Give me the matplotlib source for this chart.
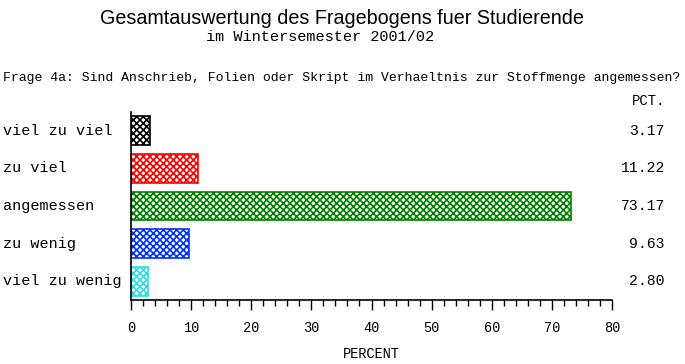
import matplotlib
matplotlib.use("Agg")
import matplotlib.pyplot as plt
from matplotlib.ticker import MultipleLocator
from matplotlib.transforms import blended_transform_factory

# Daten
kategorien = ['viel zu viel', 'zu viel', 'angemessen', 'zu wenig', 'viel zu wenig']
prozent = [3.17, 11.22, 73.17, 9.63, 2.80]
farben = ['#000000', '#ff0000', '#008000', '#0033ff', '#33dddd']

plt.rcParams['hatch.linewidth'] = 1.2
mono = 'Liberation Mono'

fig = plt.figure(figsize=(6.85, 3.64), dpi=100)
ax = fig.add_axes([131 / 685, 1 - 300 / 364, (612 - 131) / 685, (300 - 112) / 364])

for i, (p, c) in enumerate(zip(prozent, farben)):
    ax.barh(i, p, height=0.77, color='white', edgecolor=c, hatch='xxxxx', linewidth=1.2)

ax.set_ylim(4.5, -0.5)
ax.set_xlim(0, 80)
ax.spines['top'].set_visible(False)
ax.spines['right'].set_visible(False)
ax.spines['left'].set_linewidth(1.2)
ax.spines['bottom'].set_linewidth(1.2)

ax.xaxis.set_major_locator(MultipleLocator(10))
ax.xaxis.set_minor_locator(MultipleLocator(2))
ax.tick_params(axis='x', which='major', length=7, width=1, labelsize=9.8, pad=8)
ax.tick_params(axis='x', which='minor', length=4, width=1)
for lbl in ax.get_xticklabels():
    lbl.set_fontfamily(mono)
ax.set_yticks([])
ax.set_xlabel('PERCENT', fontfamily=mono, fontsize=9.8, labelpad=9)

# Kategorien links, Werte rechts
trans = blended_transform_factory(fig.transFigure, ax.transData)
for i, (k, p) in enumerate(zip(kategorien, prozent)):
    ax.text(3 / 685, i, k, transform=trans, fontsize=10.9,
            fontfamily=mono, va='center', ha='left')
    ax.text(665 / 685, i, f'{p:.2f}', transform=trans, fontsize=10.6,
            fontfamily=mono, va='center', ha='right')

fig.text(665 / 685, 1 - 101 / 364, 'PCT.', fontfamily=mono, fontsize=10, ha='right', va='center')

fig.text(342 / 685, 1 - 18 / 364, 'Gesamtauswertung des Fragebogens fuer Studierende',
         fontfamily='Liberation Sans', fontsize=14.2, ha='center', va='center')
fig.text(320 / 685, 1 - 37 / 364, 'im Wintersemester 2001/02',
         fontfamily=mono, fontsize=11, ha='center', va='center')
fig.text(3 / 685, 1 - 78 / 364,
         'Frage 4a: Sind Anschrieb, Folien oder Skript im Verhaeltnis zur Stoffmenge angemessen?',
         fontfamily=mono, fontsize=9.45, ha='left', va='center')

fig.savefig('out.png', dpi=100)
